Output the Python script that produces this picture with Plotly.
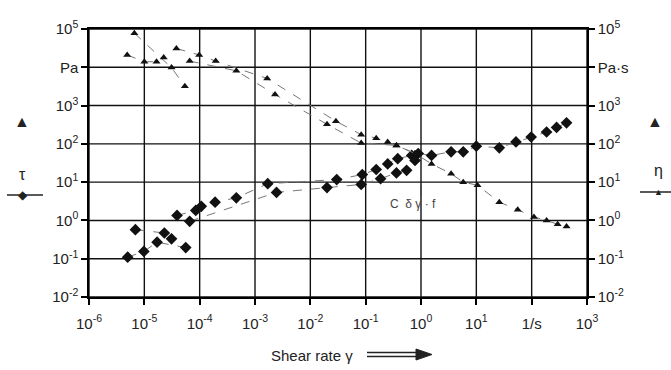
import plotly.graph_objects as go

# ---------------- data ----------------
x_ticks = [1e-6, 1e-5, 1e-4, 1e-3, 1e-2, 1e-1, 1e0, 1e1, 1e2, 1e3]
x_ticktext = ["10<sup>-6</sup>", "10<sup>-5</sup>", "10<sup>-4</sup>", "10<sup>-3</sup>",
              "10<sup>-2</sup>", "10<sup>-1</sup>", "10<sup>0</sup>", "10<sup>1</sup>",
              "1/s", "10<sup>3</sup>"]
y_ticks = [1e-2, 1e-1, 1e0, 1e1, 1e2, 1e3, 1e4, 1e5]
y_left_text = ["10<sup>-2</sup>", "10<sup>-1</sup>", "10<sup>0</sup>", "10<sup>1</sup>",
               "10<sup>2</sup>", "10<sup>3</sup>", "Pa", "10<sup>5</sup>"]
y_right_text = ["10<sup>-2</sup>", "10<sup>-1</sup>", "10<sup>0</sup>", "10<sup>1</sup>",
                "10<sup>2</sup>", "10<sup>3</sup>", "Pa·s", "10<sup>5</sup>"]

# viscosity eta (triangles)
eta_a_x = [6.6e-6, 3.1e-5, 5.4e-5]
eta_a_y = [7.8e4, 9.8e3, 3.2e3]
eta_b_x = [4.9e-6, 1.0e-5, 1.66e-5, 2.24e-5]
eta_b_y = [2.1e4, 1.4e4, 1.4e4, 1.8e4]
eta_c_x = [3.8e-5, 9.8e-5, 1.95e-4, 1.66e-3, 0.029, 0.083, 0.155, 0.25, 0.36,
           0.78, 1.55, 3.5, 5.8, 10.5, 26, 56, 110, 186, 295, 427]
eta_c_y = [3.1e4, 2.1e4, 1.45e4, 5.1e3, 390, 174, 141, 112, 91,
           56, 30, 16.6, 10, 8.3, 3.0, 1.9, 1.23, 1.0, 0.79, 0.69]
eta_d_x = [6.6e-5, 4.6e-4, 2.3e-3, 0.020, 0.083, 0.36, 0.78]
eta_d_y = [1.45e4, 8.1e3, 1.95e3, 324, 105, 91, 56]

# shear stress tau (diamonds)
tau_a_x = [5.0e-6, 9.8e-6, 1.7e-5, 5.6e-5]
tau_a_y = [0.11, 0.155, 0.27, 0.195]
tau_b_x = [6.9e-6, 2.3e-5, 3.1e-5]
tau_b_y = [0.575, 0.47, 0.33]
tau_c_x = [3.9e-5, 8.5e-5, 1.07e-4, 1.9e-4, 4.6e-4, 1.7e-3, 0.030, 0.087, 0.155, 0.25,
           0.38, 0.68, 0.89, 1.55, 3.5, 5.8, 10, 26, 52, 98, 186, 282, 427]
tau_c_y = [1.35, 1.82, 2.34, 3.0, 3.9, 9.1, 11.7, 15.8, 21.4, 30,
           41, 50, 56, 50, 62, 62, 87, 79, 112, 151, 204, 269, 355]
tau_d_x = [6.6e-5, 2.45e-3, 0.020, 0.083, 0.186, 0.36, 0.55, 0.78]
tau_d_y = [0.95, 5.4, 7.2, 8.7, 12.3, 17.4, 20.4, 37]

FONT = "Liberation Sans, Arial, sans-serif"
LINE = dict(color="#777777", width=1, dash="dash")

fig = go.Figure()

# grid lines drawn as line traces through the axes' own scales
gx, gy = [], []
for v in x_ticks:
    gx += [v, v, None]
    gy += [y_ticks[0], y_ticks[-1], None]
for v in y_ticks:
    gx += [x_ticks[0], x_ticks[-1], None]
    gy += [v, v, None]
fig.add_trace(go.Scatter(x=gx, y=gy, mode="lines", line=dict(color="#111111", width=1.4),
                         hoverinfo="skip", showlegend=False))

for xs, ys in [(tau_a_x, tau_a_y), (tau_b_x, tau_b_y), (tau_c_x, tau_c_y), (tau_d_x, tau_d_y)]:
    fig.add_trace(go.Scatter(x=xs, y=ys, mode="lines+markers", line=LINE,
                             marker=dict(symbol="diamond", size=9, color="#111111"),
                             showlegend=False))
for xs, ys in [(eta_a_x, eta_a_y), (eta_b_x, eta_b_y), (eta_c_x, eta_c_y), (eta_d_x, eta_d_y)]:
    fig.add_trace(go.Scatter(x=xs, y=ys, mode="lines+markers", line=LINE, yaxis="y2",
                             marker=dict(symbol="triangle-up", size=7, color="#111111"),
                             showlegend=False))

axis_common = dict(type="log", showline=True, linecolor="black", linewidth=1.5,
                   ticks="outside", ticklen=6, tickcolor="black", tickwidth=1.5,
                   tickfont=dict(family=FONT, size=15, color="#222222"), zeroline=False,
                   showgrid=False)

fig.update_layout(
    width=671, height=370,
    margin=dict(l=89, r=84, t=29, b=73),
    paper_bgcolor="white", plot_bgcolor="white",
    font=dict(family=FONT, size=15, color="#222222"),
    xaxis=dict(axis_common, range=[-6, 3], tickvals=x_ticks, ticktext=x_ticktext,
               mirror=True, ticklabelstandoff=6),
    yaxis=dict(axis_common, range=[-2, 5], tickvals=y_ticks, ticktext=y_left_text,
               mirror=True),
    yaxis2=dict(axis_common, range=[-2, 5], tickvals=y_ticks, ticktext=y_right_text,
                overlaying="y", side="right"),
)

def px2paper(px, py):
    return (px - 89) / 498.0, (297 - py) / 268.0

annots = []
def add_text(px, py, text, size=15, color="#222222"):
    xp, yp = px2paper(px, py)
    annots.append(dict(x=xp, y=yp, xref="paper", yref="paper", text=text, showarrow=False,
                       xanchor="center", yanchor="middle",
                       font=dict(family=FONT, size=size, color=color)))

add_text(22, 122, "▲", 16)
add_text(22, 174, "τ", 16)
add_text(23, 195, "◆", 12)
add_text(655, 122, "▲", 16)
add_text(658, 170, "η", 16)
add_text(658, 192, "▲", 9)
add_text(312, 355, "Shear rate γ", 15)
add_text(413, 204, "C  δ γ · f", 12, "#444444")
fig.update_layout(annotations=annots)

shapes = []
def add_line(px0, py0, px1, py1, width=1.5, color="#222222"):
    x0, y0 = px2paper(px0, py0)
    x1, y1 = px2paper(px1, py1)
    shapes.append(dict(type="line", xref="paper", yref="paper", x0=x0, y0=y0, x1=x1, y1=y1,
                       line=dict(color=color, width=width)))

add_line(7, 195, 43, 195)
add_line(640, 192, 671, 192)
add_line(421, 185, 421, 196, 1, "#444444")
# double arrow next to x title
add_line(367, 352.5, 420, 352.5, 1.5)
add_line(367, 356.5, 420, 356.5, 1.5)
ax0, ay0 = px2paper(416, 349)
ax1, ay1 = px2paper(432, 354.5)
ax2, ay2 = px2paper(416, 360)
shapes.append(dict(type="path", xref="paper", yref="paper",
                   path=f"M {ax0} {ay0} L {ax1} {ay1} L {ax2} {ay2} Z",
                   fillcolor="#222222", line=dict(color="#222222", width=1)))
fig.update_layout(shapes=shapes)

fig.write_html("out.html")
